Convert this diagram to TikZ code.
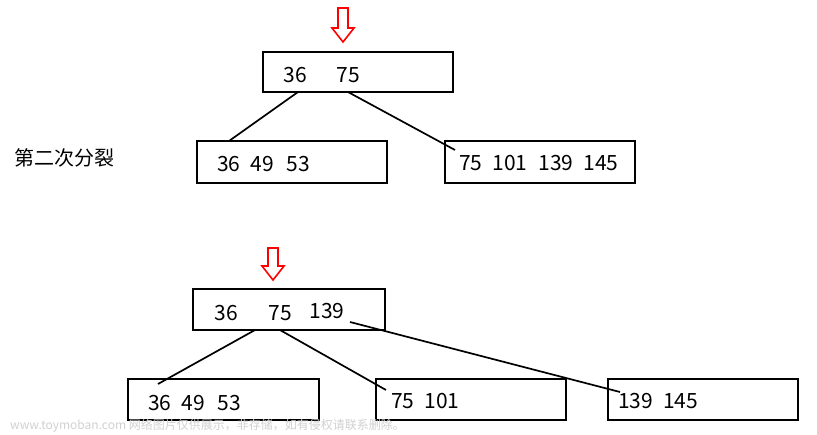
\documentclass[tikz,border=0pt]{standalone}
\usepackage{fontspec}
\setmainfont{Noto Sans CJK SC}
\begin{document}
\begin{tikzpicture}[x=1pt,y=-1pt,
  bx/.style={draw=black,line width=2pt},
  ln/.style={draw=black,line width=1.7pt},
  num/.style={font=\fontsize{21}{24}\selectfont,inner sep=0pt},
  redarrow/.style={draw=red,line width=1.6pt,fill=white}]
\useasboundingbox[fill=white] (0,0) rectangle (817,434);
% arrows
\draw[redarrow] (338,8) -- (348,8) -- (348,28) -- (354,28) -- (343,42) -- (332,28) -- (338,28) -- cycle;
\draw[redarrow] (268,248) -- (278,248) -- (278,266) -- (284,266) -- (273,280) -- (262,266) -- (268,266) -- cycle;
% top part
\draw[bx] (263,52) rectangle (453,92);
\node[num] at (295,75) {36};
\node[num] at (348,75) {75};
\draw[bx] (197,141) rectangle (387,183);
\node[num,anchor=west] at (217,164) {36\hspace{10pt}49\hspace{13pt}53};
\draw[bx] (445,141) rectangle (635,183);
\node[num,anchor=west] at (459,163) {75\hspace{10pt}101\hspace{11pt}139\hspace{10pt}145};
\coordinate (t1) at (298,92); \coordinate (t2) at (348,92);
\coordinate (l1) at (229,141); \coordinate (r1) at (455,150);
\draw[ln] (t1) -- (l1);
\draw[ln] (t2) -- (r1);
\node[font=\fontsize{20}{22}\selectfont,anchor=west,inner sep=0pt] at (14,158) {第二次分裂};
% bottom part
\draw[bx] (193,289) rectangle (385,330);
\node[num] at (226,313) {36};
\node[num] at (280,313) {75};
\node[num] at (327,311) {139};
\draw[bx] (128,379) rectangle (319,420);
\node[num,anchor=west] at (148,403) {36\hspace{10pt}49\hspace{13pt}53};
\draw[bx] (376,379) rectangle (566,420);
\node[num,anchor=west] at (391,401) {75\hspace{10pt}101};
\draw[bx] (608,379) rectangle (798,420);
\node[num,anchor=west] at (618,401) {139\hspace{10pt}145};
\coordinate (b1) at (255,330); \coordinate (b2) at (280,330); \coordinate (b3) at (350,322);
\coordinate (c1) at (158,384); \coordinate (c2) at (386,390); \coordinate (c3) at (620,392);
\draw[ln] (b1) -- (c1);
\draw[ln] (b2) -- (c2);
\draw[ln] (b3) -- (c3);
\node[font=\fontsize{12}{14}\selectfont,text=black!18,anchor=west,inner sep=0pt] at (10,426) {www.toymoban.com 网络图片仅供展示，非存储，如有侵权请联系删除。};
\end{tikzpicture}
\end{document}
